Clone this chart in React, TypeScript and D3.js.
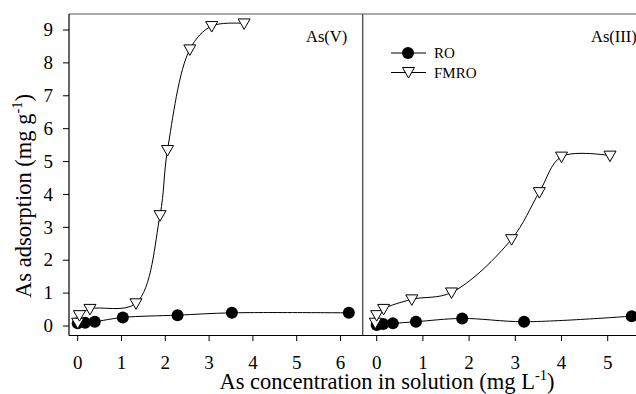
import React from "react";
import * as d3 from "d3";

// As(V) panel
const asV_RO_x = [0.0, 0.17, 0.39, 1.03, 2.28, 3.52, 6.19];
const asV_RO_y = [0.08, 0.1, 0.13, 0.26, 0.33, 0.4, 0.4];
const asV_FMRO_x = [0.0, 0.04, 0.28, 1.33, 1.88, 2.05, 2.56, 3.06, 3.8];
const asV_FMRO_y = [0.1, 0.33, 0.52, 0.69, 3.37, 5.35, 8.41, 9.12, 9.2];

// As(III) panel
const asIII_RO_x = [0.0, 0.14, 0.35, 0.85, 1.85, 3.19, 5.52];
const asIII_RO_y = [0.03, 0.06, 0.08, 0.13, 0.23, 0.13, 0.3];
const asIII_FMRO_x = [-0.03, 0.0, 0.15, 0.76, 1.62, 2.92, 3.52, 4.0, 5.05];
const asIII_FMRO_y = [0.1, 0.33, 0.52, 0.81, 1.02, 2.64, 4.07, 5.15, 5.18];

const yTicks = [0, 1, 2, 3, 4, 5, 6, 7, 8, 9];
const xTicksLeft = [0, 1, 2, 3, 4, 5, 6];
const xTicksRight = [0, 1, 2, 3, 4, 5];

const FONT = "'Liberation Serif', 'Times New Roman', Times, serif";

const zip = (xs: number[], ys: number[]) => xs.map((x, i) => [x, ys[i]] as [number, number]);

export default function App() {
  const W = 636, H = 394;
  const frameL = 69, frameT = 14, frameB = 335.5, divider = 362.7;
  const y = d3.scaleLinear().domain([0, 9]).range([326, 30]);
  const xL = d3.scaleLinear().domain([0, 6]).range([77.7, 77.7 + 6 * 43.8]);
  const xR = d3.scaleLinear().domain([0, 5]).range([376.7, 376.7 + 5 * 46.2]);

  const mkLine = (xs: d3.ScaleLinear<number, number>) =>
    d3.line<[number, number]>().x((d) => xs(d[0])).y((d) => y(d[1])).curve(d3.curveCatmullRom.alpha(0.5));

  const lineL = mkLine(xL);
  const lineR = mkLine(xR);

  const tri = (cx: number, cy: number) =>
    `M${cx - 6},${cy - 4.5} L${cx + 6},${cy - 4.5} L${cx},${cy + 6} Z`;

  const series = [
    { xs: xL, line: lineL, ro: zip(asV_RO_x, asV_RO_y), fm: zip(asV_FMRO_x, asV_FMRO_y) },
    { xs: xR, line: lineR, ro: zip(asIII_RO_x, asIII_RO_y), fm: zip(asIII_FMRO_x, asIII_FMRO_y) },
  ];

  const ts = { fontFamily: FONT } as React.CSSProperties;

  return (
    <svg width={W} height={H} style={{ position: "absolute", left: 0, top: 0, background: "#fff", fontFamily: FONT }}>
      <rect x={0} y={0} width={W} height={H} fill="#fff" />
      {/* frame */}
      <line x1={frameL} x2={W} y1={frameT} y2={frameT} stroke="#555" strokeWidth={1.2} />
      <line x1={divider} x2={divider} y1={frameT} y2={frameB} stroke="#555" strokeWidth={1.4} />
      <line x1={frameL} x2={frameL} y1={frameT} y2={frameB} stroke="#000" strokeWidth={1.2} />
      <line x1={frameL} x2={W} y1={frameB} y2={frameB} stroke="#000" strokeWidth={1.2} />

      {/* y ticks */}
      {yTicks.map((t) => (
        <g key={"y" + t}>
          <line x1={frameL - 6} x2={frameL} y1={y(t)} y2={y(t)} stroke="#000" strokeWidth={1} />
          <text style={ts} x={53} y={y(t)} dy="0.33em" textAnchor="end" fontSize={19}>{t}</text>
        </g>
      ))}
      {/* x ticks */}
      {xTicksLeft.map((t) => (
        <g key={"xl" + t}>
          <line x1={xL(t)} x2={xL(t)} y1={frameB} y2={frameB + 5.5} stroke="#000" strokeWidth={1} />
          <text style={ts} x={xL(t)} y={369} textAnchor="middle" fontSize={19}>{t}</text>
        </g>
      ))}
      {xTicksRight.map((t) => (
        <g key={"xr" + t}>
          <line x1={xR(t)} x2={xR(t)} y1={frameB} y2={frameB + 5.5} stroke="#000" strokeWidth={1} />
          <text style={ts} x={xR(t)} y={369} textAnchor="middle" fontSize={19}>{t}</text>
        </g>
      ))}

      {/* data */}
      {series.map((s, i) => (
        <g key={"s" + i}>
          <path d={s.line(s.ro) || ""} fill="none" stroke="#000" strokeWidth={1} />
          <path d={s.line(s.fm) || ""} fill="none" stroke="#000" strokeWidth={1} />
          {s.ro.map((d, j) => (
            <circle key={"c" + j} cx={s.xs(d[0])} cy={y(d[1])} r={6} fill="#000" />
          ))}
          {s.fm.map((d, j) => (
            <path key={"t" + j} d={tri(s.xs(d[0]), y(d[1]))} fill="#fff" stroke="#000" strokeWidth={1} />
          ))}
        </g>
      ))}

      {/* panel labels */}
      <text style={ts} x={306} y={42} fontSize={16.5}>As(V)</text>
      <text style={ts} x={591} y={42} fontSize={16.5}>As(III)</text>

      {/* legend */}
      <line x1={391} x2={426} y1={53} y2={53} stroke="#000" strokeWidth={1} />
      <circle cx={408} cy={53} r={6} fill="#000" />
      <text style={ts} x={434} y={58} fontSize={15}>RO</text>
      <line x1={391} x2={426} y1={72.5} y2={72.5} stroke="#000" strokeWidth={1} />
      <path d={tri(408.5, 72)} fill="#fff" stroke="#000" strokeWidth={1} />
      <text style={ts} x={434} y={78} fontSize={15}>FMRO</text>

      {/* axis titles */}
      <text style={ts} x={387} y={389} textAnchor="middle" fontSize={22.5}>
        As concentration in solution (mg L<tspan dy={-9} fontSize={14.5}>-1</tspan><tspan dy={9}>)</tspan>
      </text>
      <text style={ts} transform={`translate(31,196) rotate(-90)`} textAnchor="middle" fontSize={22.5}>
        As adsorption (mg g<tspan dy={-9} fontSize={14.5}>-1</tspan><tspan dy={9}>)</tspan>
      </text>
    </svg>
  );
}
